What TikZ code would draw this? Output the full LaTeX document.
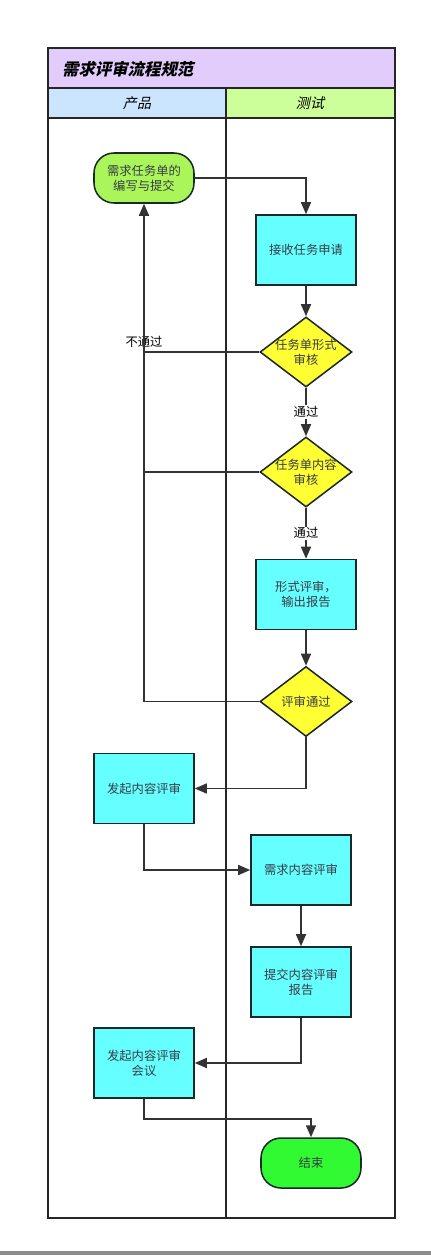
\documentclass[tikz,border=0pt]{standalone}
\usepackage{fontspec}
\setmainfont{Noto Sans CJK SC}
\newfontfamily\cjkslant{Noto Sans CJK SC}[FakeSlant=0.22]
\usetikzlibrary{arrows.meta,shapes.geometric,positioning,calc}
\definecolor{titlebg}{RGB}{226,204,252}
\definecolor{laneprod}{RGB}{204,229,255}
\definecolor{lanetest}{RGB}{204,255,153}
\definecolor{proccyan}{RGB}{102,255,255}
\definecolor{chkyellow}{RGB}{255,255,51}
\definecolor{startgreen}{RGB}{170,245,90}
\definecolor{endgreen}{RGB}{50,250,50}
\definecolor{boxline}{RGB}{25,40,40}
\definecolor{nodetext}{RGB}{55,60,70}

\begin{document}
\begin{tikzpicture}[x=0.03cm, y=-0.03cm,
  frm/.style={draw=black!85, line width=1.3pt},
  nodefont/.style={font=\fontsize{10.5}{13}\selectfont, text=nodetext, align=center},
  proc/.style={nodefont, draw=boxline, line width=1.3pt, rectangle, fill=proccyan,
    minimum width=3cm, minimum height=2.1cm, inner sep=0pt},
  chk/.style={nodefont, draw=boxline, line width=1.3pt, diamond, fill=chkyellow,
    minimum width=2.76cm, minimum height=2.1cm, inner sep=-9pt},
  term/.style={nodefont, draw=boxline, line width=1.3pt, rectangle, rounded corners=0.6cm,
    minimum width=3cm, minimum height=1.5cm, inner sep=0pt},
  lnk/.style={-{Triangle[length=3.6mm,width=3mm]}, draw=black!80, line width=1.3pt},
  ln/.style={draw=black!80, line width=1.3pt},
  lab/.style={font=\fontsize{10.5}{13}\selectfont, fill=white, inner sep=1pt},
]
\useasboundingbox (0,0) rectangle (431,1255);
% title band and lane headers
\fill[titlebg] (48,48) rectangle (395,88);
\fill[laneprod] (48,88) rectangle (226,118);
\fill[lanetest] (226,88) rectangle (395,118);
\node[anchor=west, font=\fontsize{14}{16}\selectfont\cjkslant\bfseries] (title) at (58,69) {需求评审流程规范};
\node[font=\fontsize{12}{14}\selectfont\cjkslant] (prod) at (137,103) {产品};
\node[font=\fontsize{12}{14}\selectfont\cjkslant] (test) at (310,103) {测试};
\draw[frm] (48,48) rectangle (395,1218);
\draw[frm] (48,88) -- (395,88);
\draw[frm] (48,118) -- (395,118);
\draw[frm] (226,88) -- (226,1218);
% bottom edge of the page
\fill[black!45] (0,1251) rectangle (431,1255);
% steps
\node[term, fill=startgreen] (start) at (144,178) {需求任务单的\\编写与提交};
\node[proc] (recv) at (306,250) {接收任务申请};
\node[chk] (chk1) at (306,352) {任务单形式\\审核};
\node[chk] (chk2) at (306,472) {任务单内容\\审核};
\node[proc] (review) at (306,594.5) {形式评审，\\输出报告};
\node[chk] (pass) at (306,701.5) {评审通过};
\node[proc] (launch) at (144,788.5) {发起内容评审};
\node[proc] (content) at (301,870) {需求内容评审};
\node[proc] (submit) at (301,982) {提交内容评审\\报告};
\node[proc] (meeting) at (144,1063) {发起内容评审\\会议};
\node[term, fill=endgreen] (finish) at (311,1163) {结束};
% connectors
\draw[lnk] (start.east) -| (recv.north);
\draw[lnk] (recv) -- (chk1);
\draw[lnk] (chk1) -- node[lab] {通过} (chk2);
\draw[lnk] (chk2) -- node[lab] {通过} (review);
\draw[lnk] (review) -- (pass);
\draw[ln] (chk1.west) -- node[pos=1, anchor=south, font=\fontsize{10.5}{13}\selectfont, inner sep=3pt] {不通过} (chk1.west -| start.south);
\draw[ln] (chk2.west) -- (chk2.west -| start.south);
\draw[lnk] (pass.west) -| (start.south);
\draw[lnk] (pass.south) |- (launch.east);
\draw[lnk] (launch.south) |- (content.west);
\draw[lnk] (content) -- (submit);
\draw[lnk] (submit.south) |- (meeting.east);
\draw[lnk] (meeting.south) -- ++(0,20) -| (finish.north);
\end{tikzpicture}
\end{document}
